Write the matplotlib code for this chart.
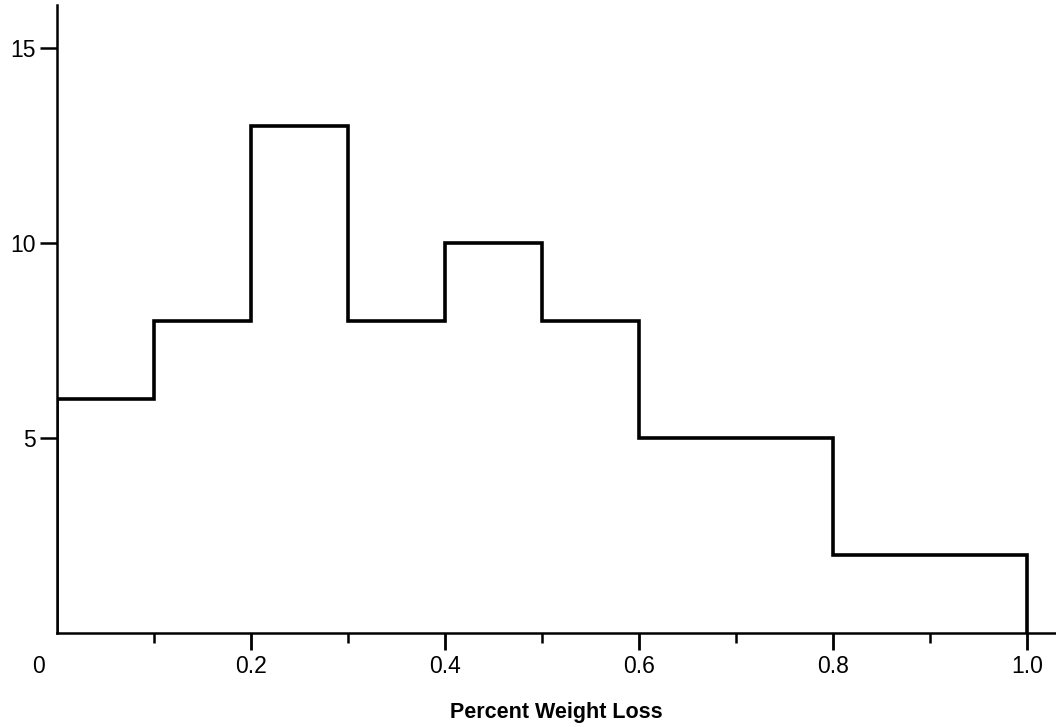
import matplotlib.pyplot as plt
import numpy as np

# histogram of percent weight loss
bin_edges = [0.0, 0.1, 0.2, 0.3, 0.4, 0.5, 0.6, 0.8, 1.0]
counts = [6, 8, 13, 8, 10, 8, 5, 2]
major_ticks = [0.2, 0.4, 0.6, 0.8, 1.0]
major_labels = ['0.2', '0.4', '0.6', '0.8', '1.0']
minor_ticks = [0.1, 0.3, 0.5, 0.7, 0.9]
y_ticks = [5, 10, 15]

plt.rcParams['font.family'] = ['Liberation Sans', 'DejaVu Sans']

fig = plt.figure(figsize=(10.56, 7.27), dpi=100)
ax = fig.add_axes([0.054, 0.1293, 0.946, 0.864])

ax.stairs(counts, bin_edges, baseline=0, color='black', linewidth=2.6)

ax.set_xlim(0, 1.03)
ax.set_ylim(0, 16.1)

ax.spines['top'].set_visible(False)
ax.spines['right'].set_visible(False)
ax.spines['left'].set_linewidth(1.8)
ax.spines['bottom'].set_linewidth(1.8)

ax.set_xticks(major_ticks)
ax.set_xticklabels(major_labels)
ax.set_xticks(minor_ticks, minor=True)
ax.set_yticks(y_ticks)
ax.set_yticklabels([str(v) for v in y_ticks])
ax.tick_params(axis='x', which='major', direction='out', length=12, width=2, labelsize=16.5, pad=4)
ax.tick_params(axis='x', which='minor', direction='out', length=7, width=1.8)
ax.tick_params(axis='y', direction='out', length=12, width=1.8, labelsize=16.5, pad=3)

# the zero sits left of the axis corner
ax.text(-0.019, -0.054, '0', transform=ax.get_xaxis_transform(), ha='center', va='center', fontsize=16.5)

ax.set_xlabel('Percent Weight Loss', fontsize=15.5, fontweight='bold', labelpad=17)

fig.savefig('out.png', dpi=100)
